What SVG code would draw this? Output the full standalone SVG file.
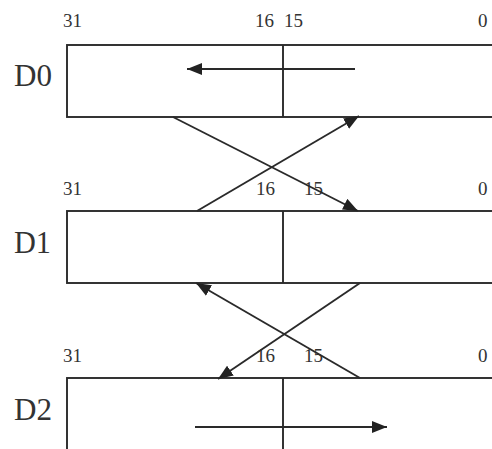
<svg xmlns="http://www.w3.org/2000/svg" width="492" height="449" viewBox="0 0 492 449">
<style>
.box{fill:none;stroke:#2a2a2a;stroke-width:1.9}
.div{stroke:#2a2a2a;stroke-width:1.9}
.num{font-family:"Liberation Serif",serif;font-size:19px;fill:#333}
.reg{font-family:"Liberation Serif",serif;font-size:31px;fill:#333}
.con{stroke:#2a2a2a;stroke-width:1.9;fill:none;marker-end:url(#ah)}
</style>
<defs>
<marker id="ah" markerUnits="userSpaceOnUse" markerWidth="16" markerHeight="13" refX="15" refY="6.5" orient="auto">
<path d="M0,0.5 L15,6.5 L0,12.5 z" fill="#222"/>
</marker>
</defs>
<rect width="492" height="449" fill="#fff"/>
<g id="D0">
<rect class="box" x="67" y="45" width="440" height="72"/>
<line class="div" x1="283" y1="45" x2="283" y2="117"/>
<text class="reg" x="14" y="86" textLength="38" lengthAdjust="spacingAndGlyphs">D0</text>
<text class="num" x="63" y="27">31</text>
<text class="num" x="255" y="27">16</text>
<text class="num" x="284" y="27">15</text>
<text class="num" x="478" y="27">0</text>
</g>
<g id="D1">
<rect class="box" x="67" y="211" width="440" height="72"/>
<line class="div" x1="283" y1="211" x2="283" y2="283"/>
<text class="reg" x="14" y="253" textLength="37" lengthAdjust="spacingAndGlyphs">D1</text>
<text class="num" x="63" y="195">31</text>
<text class="num" x="256" y="195">16</text>
<text class="num" x="304" y="195">15</text>
<text class="num" x="478" y="195">0</text>
</g>
<g id="D2">
<rect class="box" x="67" y="378" width="440" height="90"/>
<line class="div" x1="283" y1="378" x2="283" y2="449"/>
<text class="reg" x="14" y="420" textLength="38" lengthAdjust="spacingAndGlyphs">D2</text>
<text class="num" x="63" y="362">31</text>
<text class="num" x="256" y="362">16</text>
<text class="num" x="304" y="362">15</text>
<text class="num" x="478" y="362">0</text>
</g>
<g id="connectors">
<line class="con" x1="355" y1="69" x2="187" y2="69"/>
<line class="con" x1="173" y1="117" x2="358" y2="211"/>
<line class="con" x1="197" y1="211" x2="359" y2="116"/>
<line class="con" x1="360" y1="283" x2="218" y2="379"/>
<line class="con" x1="360" y1="378" x2="196" y2="283"/>
<line class="con" x1="195" y1="427" x2="387" y2="427"/>
</g>
</svg>
